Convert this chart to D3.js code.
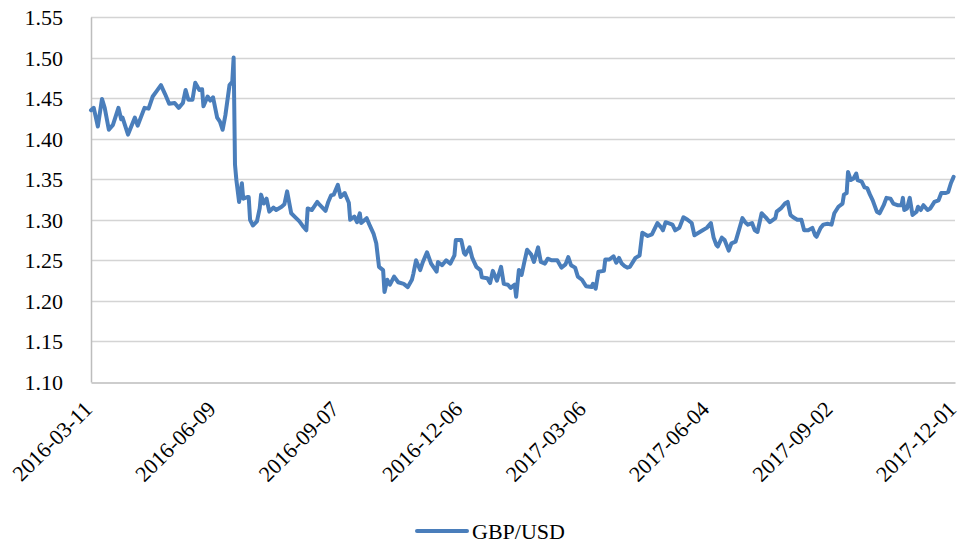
<!DOCTYPE html>
<html>
<head>
<meta charset="utf-8">
<script src="https://cdn.jsdelivr.net/npm/d3@7"></script>
<style>
  html, body { margin: 0; padding: 0; background: #fff; }
  svg text { font-family: "Liberation Serif", "Times New Roman", serif; fill: #000; }
</style>
</head>
<body>
<div id="chart"></div>
<script>
// Series name and axis ticks
const seriesName = "GBP/USD"
const yTicks = [1.10, 1.15, 1.20, 1.25, 1.30, 1.35, 1.40, 1.45, 1.50, 1.55]
const xTickLabels = ["2016-03-11", "2016-06-09", "2016-09-07", "2016-12-06",
                     "2017-03-06", "2017-06-04", "2017-09-02", "2017-12-01"]

// GBP/USD readings, split by half-year
const gbpusd2016a = [
    ["2016-03-11",1.435],["2016-03-13",1.438],["2016-03-16",1.415],["2016-03-19",1.449],["2016-03-21",1.438],
    ["2016-03-24",1.411],["2016-03-27",1.417],["2016-03-31",1.438],["2016-04-02",1.424],["2016-04-03",1.426],
    ["2016-04-07",1.405],["2016-04-12",1.426],["2016-04-14",1.416],["2016-04-19",1.438],["2016-04-22",1.437],
    ["2016-04-25",1.452],["2016-04-28",1.459],["2016-05-01",1.466],["2016-05-04",1.455],["2016-05-07",1.443],
    ["2016-05-11",1.444],["2016-05-14",1.438],["2016-05-17",1.444],["2016-05-19",1.460],["2016-05-21",1.448],
    ["2016-05-24",1.448],["2016-05-26",1.469],["2016-05-29",1.460],["2016-05-31",1.461],["2016-06-01",1.440],
    ["2016-06-04",1.452],["2016-06-06",1.447],["2016-06-08",1.451],["2016-06-11",1.426],["2016-06-13",1.421],
    ["2016-06-15",1.411],["2016-06-17",1.429],["2016-06-20",1.466],["2016-06-22",1.470],["2016-06-23",1.500],
    ["2016-06-24",1.368],["2016-06-25",1.349],["2016-06-27",1.322],["2016-06-29",1.345],["2016-06-30",1.326]
]
const gbpusd2016b = [
    ["2016-07-03",1.328],["2016-07-04",1.328],["2016-07-05",1.300],["2016-07-07",1.293],["2016-07-10",1.298],
    ["2016-07-12",1.314],["2016-07-13",1.331],["2016-07-15",1.320],["2016-07-17",1.326],["2016-07-19",1.310],
    ["2016-07-22",1.315],["2016-07-24",1.312],["2016-07-28",1.316],["2016-07-30",1.319],["2016-08-01",1.335],
    ["2016-08-04",1.308],["2016-08-07",1.303],["2016-08-10",1.298],["2016-08-13",1.291],["2016-08-15",1.287],
    ["2016-08-16",1.314],["2016-08-19",1.312],["2016-08-23",1.322],["2016-08-25",1.318],["2016-08-29",1.311],
    ["2016-08-31",1.322],["2016-09-02",1.330],["2016-09-04",1.331],["2016-09-07",1.343],["2016-09-09",1.328],
    ["2016-09-12",1.333],["2016-09-15",1.321],["2016-09-16",1.300],["2016-09-19",1.304],["2016-09-21",1.297],
    ["2016-09-23",1.308],["2016-09-24",1.296],["2016-09-28",1.302],["2016-09-30",1.294],["2016-10-03",1.283],
    ["2016-10-05",1.271],["2016-10-07",1.242],["2016-10-10",1.238],["2016-10-11",1.211],["2016-10-13",1.226],
    ["2016-10-15",1.220],["2016-10-18",1.230],["2016-10-21",1.223],["2016-10-25",1.221],["2016-10-28",1.217],
    ["2016-10-31",1.226],["2016-11-01",1.233],["2016-11-03",1.250],["2016-11-06",1.238],["2016-11-08",1.248],
    ["2016-11-11",1.260],["2016-11-14",1.246],["2016-11-18",1.236],["2016-11-19",1.248],["2016-11-22",1.244],
    ["2016-11-25",1.250],["2016-11-28",1.246],["2016-12-01",1.256],["2016-12-02",1.275],["2016-12-06",1.275],
    ["2016-12-08",1.259],["2016-12-09",1.257],["2016-12-12",1.266],["2016-12-14",1.253],["2016-12-17",1.242],
    ["2016-12-20",1.238],["2016-12-21",1.229],["2016-12-25",1.228],["2016-12-27",1.222],["2016-12-29",1.237]
]
const gbpusd2017a = [
    ["2017-01-01",1.225],["2017-01-04",1.242],["2017-01-06",1.221],["2017-01-09",1.220],["2017-01-11",1.216],
    ["2017-01-14",1.220],["2017-01-15",1.205],["2017-01-17",1.238],["2017-01-19",1.232],["2017-01-21",1.248],
    ["2017-01-23",1.263],["2017-01-26",1.257],["2017-01-28",1.248],["2017-01-31",1.266],["2017-02-02",1.248],
    ["2017-02-05",1.246],["2017-02-07",1.252],["2017-02-10",1.250],["2017-02-14",1.250],["2017-02-17",1.241],
    ["2017-02-20",1.245],["2017-02-22",1.254],["2017-02-24",1.244],["2017-02-27",1.241],["2017-03-01",1.230],
    ["2017-03-04",1.226],["2017-03-07",1.218],["2017-03-11",1.217],["2017-03-12",1.221],["2017-03-14",1.215],
    ["2017-03-16",1.236],["2017-03-20",1.237],["2017-03-21",1.251],["2017-03-24",1.251],["2017-03-27",1.255],
    ["2017-03-29",1.247],["2017-03-31",1.253],["2017-04-02",1.246],["2017-04-04",1.243],["2017-04-06",1.241],
    ["2017-04-08",1.242],["2017-04-12",1.253],["2017-04-15",1.256],["2017-04-17",1.284],["2017-04-21",1.280],
    ["2017-04-24",1.282],["2017-04-28",1.296],["2017-05-01",1.290],["2017-05-02",1.287],["2017-05-04",1.297],
    ["2017-05-09",1.294],["2017-05-11",1.287],["2017-05-14",1.290],["2017-05-17",1.303],["2017-05-20",1.300],
    ["2017-05-23",1.296],["2017-05-25",1.281],["2017-05-31",1.287],["2017-06-03",1.290],["2017-06-06",1.296],
    ["2017-06-08",1.278],["2017-06-10",1.269],["2017-06-11",1.267],["2017-06-14",1.278],["2017-06-16",1.275],
    ["2017-06-19",1.262],["2017-06-21",1.271],["2017-06-24",1.273],["2017-06-29",1.302]
]
const gbpusd2017b = [
    ["2017-07-01",1.297],["2017-07-03",1.294],["2017-07-06",1.296],["2017-07-08",1.287],["2017-07-10",1.285],
    ["2017-07-13",1.308],["2017-07-16",1.303],["2017-07-19",1.297],["2017-07-23",1.302],["2017-07-24",1.310],
    ["2017-07-27",1.314],["2017-07-30",1.320],["2017-08-01",1.322],["2017-08-03",1.306],["2017-08-05",1.303],
    ["2017-08-08",1.300],["2017-08-11",1.300],["2017-08-13",1.287],["2017-08-16",1.287],["2017-08-19",1.290],
    ["2017-08-21",1.281],["2017-08-22",1.279],["2017-08-25",1.290],["2017-08-27",1.294],["2017-08-30",1.295],
    ["2017-09-02",1.294],["2017-09-04",1.308],["2017-09-07",1.316],["2017-09-10",1.320],["2017-09-11",1.331],
    ["2017-09-13",1.333],["2017-09-14",1.359],["2017-09-16",1.349],["2017-09-18",1.351],["2017-09-20",1.357],
    ["2017-09-21",1.349],["2017-09-24",1.347],["2017-09-26",1.340],["2017-09-28",1.339],["2017-09-30",1.331],
    ["2017-10-02",1.324],["2017-10-05",1.310],["2017-10-07",1.308],["2017-10-10",1.318],["2017-10-12",1.327],
    ["2017-10-15",1.326],["2017-10-17",1.320],["2017-10-20",1.318],["2017-10-23",1.318],["2017-10-24",1.327],
    ["2017-10-25",1.312],["2017-10-27",1.314],["2017-10-29",1.327],["2017-10-31",1.306],["2017-11-03",1.310],
    ["2017-11-04",1.316],["2017-11-06",1.312],["2017-11-08",1.318],["2017-11-11",1.312],["2017-11-13",1.314],
    ["2017-11-16",1.322],["2017-11-19",1.324],["2017-11-21",1.333],["2017-11-24",1.333],["2017-11-26",1.334],
    ["2017-11-28",1.345],["2017-11-30",1.353]
]

// Environment variables
const width = 961
const height = 547
const plot = { left: 91, right: 955, top: 17, bottom: 382 }
const lineColor = "#4a7ebb"
const fontSize = 22

const parseDate = d3.utcParse("%Y-%m-%d")
const series = [].concat(gbpusd2016a, gbpusd2016b, gbpusd2017a, gbpusd2017b)
    .map(d => ({ date: parseDate(d[0]), value: d[1] }))
const xTicks = xTickLabels.map(parseDate)

// Scales
const x = d3.scaleUtc()
    .domain([xTicks[0], xTicks[xTicks.length - 1]])
    .range([plot.left, plot.right])
const y = d3.scaleLinear()
    .domain([yTicks[0], yTicks[yTicks.length - 1]])
    .range([plot.bottom, plot.top])

// Set svg canvas
let svg = d3.select("#chart")
    .append("svg")
    .attr("width", width)
    .attr("height", height)

// Gridlines
svg.append("g")
    .attr("id", "grid")
    .selectAll("line")
    .data(yTicks.slice(1))
    .enter()
    .append("line")
    .attr("x1", plot.left)
    .attr("x2", plot.right)
    .attr("y1", d => Math.round(y(d)) + 0.5)
    .attr("y2", d => Math.round(y(d)) + 0.5)
    .style("stroke", "#d4d4d4")
    .style("stroke-width", 1.5)

// Y axis
let yAxis = svg.append("g")
    .attr("transform", `translate(${plot.left},0)`)
    .call(d3.axisLeft(y).tickValues(yTicks).tickSize(0).tickPadding(28).tickFormat(d3.format(".2f")))
yAxis.select(".domain").style("stroke", "#bdbdbd").style("stroke-width", 1.5)
yAxis.selectAll("text")
    .style("font-size", fontSize + "px")
    .attr("dy", "0.34em")

// X axis, labels rotated -45 degrees with their end at the tick
let xAxis = svg.append("g")
    .attr("transform", `translate(0,${Math.round(plot.bottom) + 0.5})`)
    .call(d3.axisBottom(x).tickValues(xTicks).tickSize(0).tickFormat(d3.utcFormat("%Y-%m-%d")))
xAxis.select(".domain").style("stroke", "#bdbdbd").style("stroke-width", 1.5)
xAxis.selectAll("text")
    .style("font-size", fontSize + "px")
    .attr("x", 0)
    .attr("y", 0)
    .attr("dy", 0)
    .attr("text-anchor", "end")
    .attr("transform", "translate(2,28) rotate(-45)")

// Line
const line = d3.line()
    .x(d => x(d.date))
    .y(d => y(d.value))

svg.append("path")
    .datum(series)
    .attr("d", line)
    .style("fill", "none")
    .style("stroke", lineColor)
    .style("stroke-width", 4)
    .style("stroke-linejoin", "round")
    .style("stroke-linecap", "round")

// Legend
let legend = svg.append("g").attr("id", "legend").attr("transform", "translate(417,531)")
legend.append("line")
    .attr("x1", 0).attr("x2", 50)
    .attr("y1", 0).attr("y2", 0)
    .style("stroke", lineColor)
    .style("stroke-width", 4)
    .style("stroke-linecap", "round")
legend.append("text")
    .attr("x", 55)
    .attr("y", 0)
    .attr("dy", "0.35em")
    .style("font-size", fontSize + "px")
    .text(seriesName)
</script>
</body>
</html>
